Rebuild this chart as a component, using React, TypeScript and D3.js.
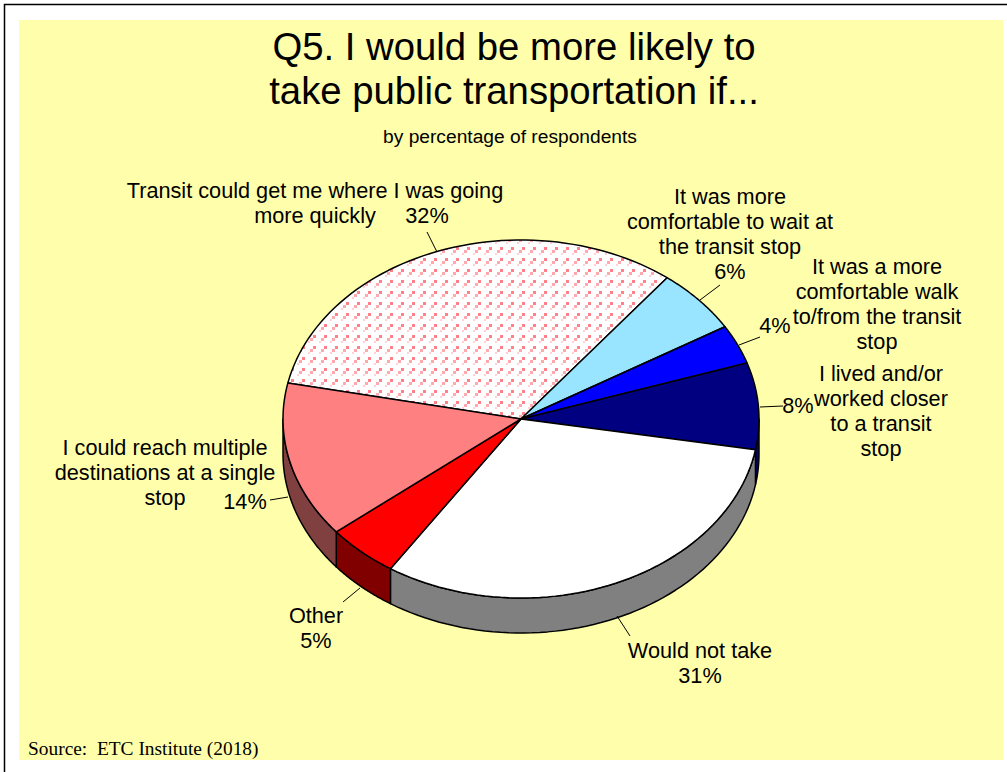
import React from 'react';
import * as d3 from 'd3';

const categories = ['Transit could get me where I was going more quickly','It was more comfortable to wait at the transit stop','It was a more comfortable walk to/from the transit stop','I lived and/or worked closer to a transit stop','Would not take','Other','I could reach multiple destinations at a single stop'];
const values = [32.3, 5.86, 3.56, 7.8, 31.5, 4.9, 14.08];
const topColors = ['url(#dots)','#99E5FF','#0000FF','#000080','#FFFFFF','#FF0000','#FF8080'];
const sideColors = ['#807070','#5090A0','#000080','#000080','#808080','#800000','#804040'];
const titleLines = ['Q5. I would be more likely to','take public transportation if...'];
const subtitle = 'by percentage of respondents';
const source = 'Source:  ETC Institute (2018)';
const labels = [
  {lines:['Transit could get me where I was going','more quickly'],x:315,y:198,extra:{t:'32%',x:427,y:223}},
  {lines:['It was more','comfortable to wait at','the transit stop','6%'],x:730,y:204},
  {lines:['It was a more','comfortable walk','to/from the transit','stop'],x:877,y:274},
  {lines:['I lived and/or','worked closer','to a transit','stop'],x:881,y:381},
  {lines:['Would not take','31%'],x:700,y:658},
  {lines:['Other','5%'],x:316,y:623},
  {lines:['I could reach multiple','destinations at a single','stop'],x:165,y:455},
];
const pctLabels = [{t:'4%',x:775,y:333},{t:'8%',x:798,y:413},{t:'14%',x:245,y:509}];
const leaders = [[[427,232],[437,252]],[[700,300],[720,285]],[[739,345],[760,337]],[[760,407],[783,406]],[[617,616],[630,636]],[[360,588],[343,602]],[[270,500],[288,497]]];

const cx = 521, cy = 419, rx = 238, ry = 179, depth = 35;
const startDeg = 281.6;

export default function App() {
  const pie = d3.pie<number>().sort(null).startAngle(startDeg*Math.PI/180).endAngle((startDeg+360)*Math.PI/180);
  const arcs = pie(values);
  const sx = d3.scaleLinear().domain([-1,1]).range([cx-rx,cx+rx]);
  const sy = d3.scaleLinear().domain([-1,1]).range([cy-ry,cy+ry]);
  const pt = (a:number,dz=0):[number,number] => [sx(Math.sin(a)), sy(-Math.cos(a))+dz];
  const line = d3.line();
  const arcPts = (a0:number,a1:number,dz=0) => d3.range(0,61).map(i=>pt(a0+(a1-a0)*i/60,dz));
  const sides = arcs.map((a,i)=>{
    let res:string[] = [];
    for (const k of [0,1]) {
      const lo = Math.PI/2 + k*2*Math.PI, hi = 3*Math.PI/2 + k*2*Math.PI;
      const a0 = Math.max(a.startAngle,lo), a1 = Math.min(a.endAngle,hi);
      if (a1>a0) {
        const top = arcPts(a0,a1), bot = arcPts(a0,a1,depth).reverse();
        res.push(line([...top,...bot])+'Z');
      }
    }
    return {d:res.join(''),fill:sideColors[i]};
  });
  const tops = arcs.map((a,i)=>({d:line([[cx,cy],...arcPts(a.startAngle,a.endAngle)])+'Z',fill:topColors[i]}));
  const font = '"Liberation Sans", Arial, sans-serif';
  const fs = 21.7;
  return (
    <svg width={1007} height={772} style={{position:'absolute',left:0,top:0}} fontFamily={font}>
      <defs>
        <pattern id="dots" patternUnits="userSpaceOnUse" width={11} height={11} x={0} y={0}>
          <rect width={11} height={11} fill="#fff"/>
          <rect x={5} y={5} width={3} height={3} fill="#FF8088"/>
          <rect x={2} y={8} width={3} height={3} fill="#FFA8AE"/>
          <rect x={0} y={0} width={2} height={2} fill="#FFD0D4"/>
        </pattern>
      </defs>
      <rect x={0} y={0} width={1007} height={772} fill="#fff"/>
      <path d="M4.5 772V4.5H1007" fill="none" stroke="#000" strokeWidth={1.5}/>
      <rect x={19} y={20} width={984} height={740} fill="#FFFFAB"/>
      {sides.map((s,i)=><path key={i} d={s.d} fill={s.fill} stroke="#000" strokeWidth={1.5} strokeLinejoin="round"/>)}
      {tops.map((s,i)=><path key={i} d={s.d} fill={s.fill} stroke="#000" strokeWidth={1.5} strokeLinejoin="round"/>)}
      {leaders.map((l,i)=><path key={i} d={line(l as [number,number][])!} stroke="#000" strokeWidth={1} fill="none"/>)}
      {titleLines.map((t,i)=><text key={i} x={514} y={60+i*44} textAnchor="middle" fontSize={38.3} fill="#000">{t}</text>)}
      <text x={510} y={143} textAnchor="middle" fontSize={19.2} fill="#000">{subtitle}</text>
      {labels.map((l,i)=>(
        <g key={i}>
          {l.lines.map((t,j)=><text key={j} x={l.x} y={l.y+j*25} textAnchor="middle" fontSize={fs} fill="#000">{t}</text>)}
          {l.extra && <text x={l.extra.x} y={l.extra.y} textAnchor="middle" fontSize={fs} fill="#000">{l.extra.t}</text>}
        </g>
      ))}
      {pctLabels.map((l,i)=><text key={i} x={l.x} y={l.y} textAnchor="middle" fontSize={fs} fill="#000">{l.t}</text>)}
      <text x={28} y={755} fontFamily='"Liberation Serif", serif' fontSize={19.4} fill="#000" style={{whiteSpace:'pre'}}>{source}</text>
    </svg>
  );
}
